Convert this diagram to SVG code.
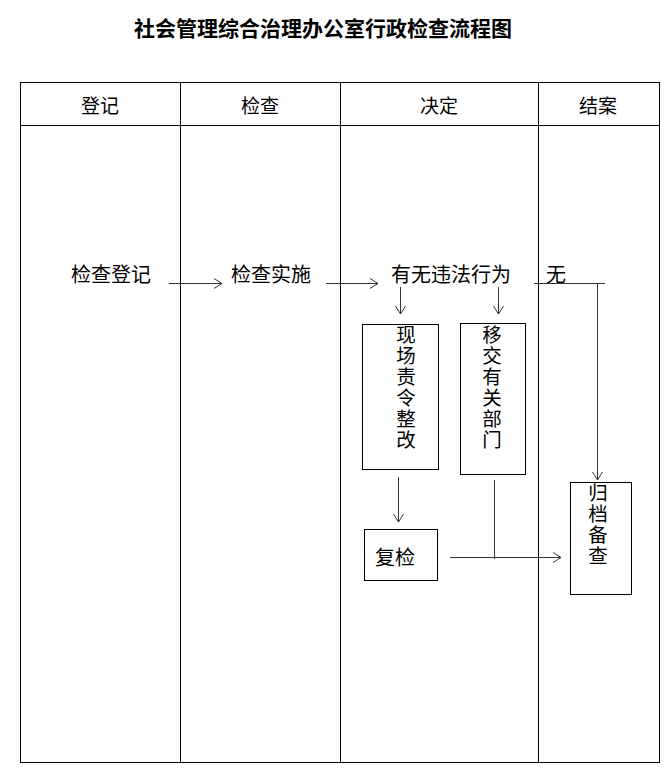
<svg xmlns="http://www.w3.org/2000/svg" width="670" height="775" viewBox="0 0 670 775">
<style>
text{font-family:"Noto Sans CJK SC","Liberation Sans",sans-serif;font-size:20px;fill:#000;text-anchor:middle;dominant-baseline:central}
.title{font-size:21px;font-weight:bold}
.h{font-size:19px}
.v{writing-mode:vertical-rl;text-anchor:start;letter-spacing:1.5px;font-size:19.5px}
.grid{fill:none;stroke:#000;stroke-width:1}
.box{fill:#fff;stroke:#000;stroke-width:1}
.c{fill:none;stroke:#333;stroke-width:1}
</style>
<defs>
<marker id="ah" markerWidth="12" markerHeight="12" refX="10" refY="6" orient="auto" markerUnits="userSpaceOnUse">
<path d="M2,1 L10,6 L2,11" fill="none" stroke="#333" stroke-width="1"/>
</marker>
</defs>
<rect width="670" height="775" fill="#fff"/>
<text class="title" x="323" y="27">社会管理综合治理办公室行政检查流程图</text>
<g id="table">
<rect class="grid" x="20.5" y="82.5" width="639" height="680"/>
<line class="grid" x1="20" y1="125.5" x2="660" y2="125.5"/>
<line class="grid" x1="180.5" y1="82" x2="180.5" y2="763"/>
<line class="grid" x1="340.5" y1="82" x2="340.5" y2="763"/>
<line class="grid" x1="538.5" y1="82" x2="538.5" y2="763"/>
<text class="h" x="100" y="104">登记</text>
<text class="h" x="260" y="104">检查</text>
<text class="h" x="439" y="104">决定</text>
<text class="h" x="598" y="104">结案</text>
</g>
<g id="connectors">
<line class="c" x1="169" y1="283.5" x2="222" y2="283.5" marker-end="url(#ah)"/>
<line class="c" x1="326" y1="283.5" x2="378" y2="283.5" marker-end="url(#ah)"/>
<line class="c" x1="400.5" y1="287" x2="400.5" y2="314" marker-end="url(#ah)"/>
<line class="c" x1="498.5" y1="287" x2="498.5" y2="314" marker-end="url(#ah)"/>
<polyline class="c" points="534,283.5 605,283.5"/>
<line class="c" x1="597.5" y1="283" x2="597.5" y2="480" marker-end="url(#ah)"/>
<line class="c" x1="398.5" y1="477" x2="398.5" y2="522" marker-end="url(#ah)"/>
<line class="c" x1="494.5" y1="480" x2="494.5" y2="559"/>
<line class="c" x1="450" y1="557.5" x2="561" y2="557.5" marker-end="url(#ah)"/>
</g>
<g id="n1"><text x="111" y="273">检查登记</text></g>
<g id="n2"><text x="271" y="273">检查实施</text></g>
<g id="n3"><text x="451" y="273">有无违法行为</text></g>
<g id="n4"><text x="556" y="273">无</text></g>
<g id="n5">
<rect class="box" x="362.5" y="324.5" width="76" height="145"/>
<text class="v" x="406" y="325">现场责令整改</text>
</g>
<g id="n6">
<rect class="box" x="460.5" y="323.5" width="65" height="151"/>
<text class="v" x="492" y="325">移交有关部门</text>
</g>
<g id="n7">
<rect class="box" x="364.5" y="529.5" width="73" height="51"/>
<text x="395" y="556">复检</text>
</g>
<g id="n8">
<rect class="box" x="570.5" y="482.5" width="61" height="112"/>
<text class="v" x="598" y="483">归档备查</text>
</g>
</svg>
